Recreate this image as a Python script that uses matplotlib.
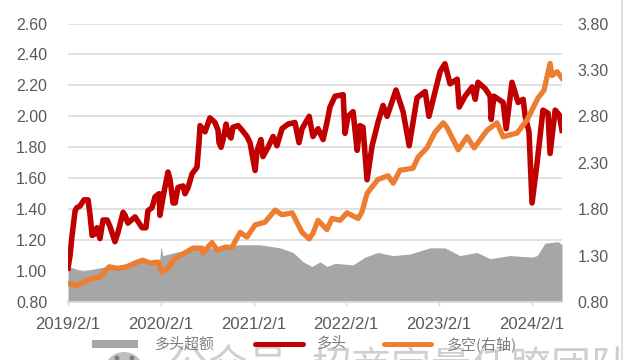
import pandas as pd
import matplotlib
matplotlib.use("Agg")
import matplotlib.pyplot as plt
from matplotlib.lines import Line2D
from matplotlib.patches import Ellipse, Rectangle

start = pd.Timestamp("2019-02-01")

long_days = [0, 8, 16, 28, 35, 47, 63, 79, 87, 95, 106, 114, 126, 138, 154, 165, 173, 185, 197, 217,
             225, 236, 264, 292, 307, 315, 331, 343, 359, 362, 378, 394, 402, 414, 422, 433, 453, 461,
             473, 489, 508, 516, 520, 540, 559, 579, 591, 595, 603, 611, 623, 630, 642, 650, 670, 686,
             705, 717, 737, 745, 760, 768, 788, 808, 823, 843, 867, 894, 910, 922, 950, 965, 985, 1005,
             1020, 1032, 1052, 1084, 1091, 1103, 1123, 1139, 1150, 1162, 1178, 1198, 1221, 1241, 1257,
             1292, 1308, 1320, 1344, 1375, 1407, 1422, 1446, 1466, 1485, 1505, 1533, 1541, 1564, 1592,
             1604, 1615, 1643, 1663, 1667, 1678, 1714, 1726, 1749, 1773, 1793, 1801, 1816, 1828, 1848,
             1871, 1891, 1899, 1919, 1935, 1946]
long_vals = [1.02, 1.10, 1.23, 1.39, 1.41, 1.42, 1.46, 1.46, 1.36, 1.23, 1.24, 1.28, 1.21, 1.33, 1.33, 1.29,
             1.25, 1.19, 1.25, 1.38, 1.36, 1.31, 1.35, 1.28, 1.28, 1.39, 1.41, 1.48, 1.50, 1.36, 1.51, 1.64,
             1.59, 1.44, 1.44, 1.54, 1.55, 1.50, 1.54, 1.63, 1.67, 1.83, 1.94, 1.90, 1.99, 1.96, 1.91, 1.83,
             1.80, 1.85, 1.95, 1.89, 1.86, 1.93, 1.94, 1.91, 1.87, 1.83, 1.65, 1.78, 1.85, 1.74, 1.80, 1.87,
             1.81, 1.92, 1.95, 1.96, 1.83, 1.92, 2.00, 1.87, 1.92, 1.85, 1.96, 2.06, 2.13, 2.14, 1.89, 2.00,
             2.03, 1.78, 1.94, 1.93, 1.59, 1.81, 1.96, 2.07, 2.00, 2.17, 2.09, 2.03, 1.81, 2.12, 2.16, 2.00,
             2.16, 2.29, 2.34, 2.21, 2.24, 2.06, 2.13, 2.19, 2.11, 2.22, 2.18, 2.13, 1.98, 2.13, 2.09, 1.92,
             2.22, 2.09, 2.11, 2.00, 1.90, 1.44, 1.70, 2.04, 2.02, 1.76, 2.04, 2.01, 1.91]

ls_days = [0, 35, 79, 126, 162, 197, 232, 264, 295, 323, 355, 370, 394, 422, 461, 492, 528, 532, 567, 587,
           619, 646, 678, 705, 737, 776, 816, 843, 883, 922, 950, 965, 985, 1020, 1040, 1072, 1099, 1143,
           1158, 1178, 1221, 1261, 1281, 1308, 1359, 1379, 1414, 1446, 1478, 1493, 1537, 1572, 1600, 1651,
           1690, 1714, 1769, 1808, 1852, 1875, 1899, 1907, 1927, 1946]
ls_vals = [1.00, 0.98, 1.04, 1.07, 1.18, 1.16, 1.18, 1.22, 1.25, 1.22, 1.23, 1.12, 1.17, 1.27, 1.33, 1.38,
           1.38, 1.33, 1.44, 1.36, 1.39, 1.39, 1.55, 1.50, 1.63, 1.66, 1.79, 1.74, 1.76, 1.55, 1.48, 1.54,
           1.68, 1.58, 1.70, 1.68, 1.76, 1.70, 1.77, 1.97, 2.12, 2.16, 2.08, 2.22, 2.24, 2.36, 2.46, 2.63,
           2.73, 2.68, 2.44, 2.58, 2.46, 2.65, 2.73, 2.58, 2.62, 2.76, 3.00, 3.08, 3.37, 3.24, 3.28, 3.21]

excess_days = [0, 59, 154, 256, 355, 362, 366, 374, 422, 500, 587, 670, 756, 835, 887, 926, 961, 993, 1020,
               1052, 1123, 1170, 1221, 1281, 1347, 1426, 1485, 1544, 1611, 1663, 1741, 1828, 1848, 1879,
               1931, 1946]
excess_vals = [1.03, 1.00, 1.03, 1.05, 1.07, 1.08, 1.16, 1.10, 1.12, 1.15, 1.15, 1.17, 1.17, 1.15, 1.12, 1.06,
               1.03, 1.06, 1.03, 1.05, 1.04, 1.09, 1.12, 1.10, 1.11, 1.15, 1.15, 1.10, 1.12, 1.08, 1.10, 1.09,
               1.10, 1.18, 1.19, 1.17]

x_ticks = ["2019-02-01", "2020-02-01", "2021-02-01", "2022-02-01", "2023-02-01", "2024-02-01"]
x_labels = ["2019/2/1", "2020/2/1", "2021/2/1", "2022/2/1", "2023/2/1", "2024/2/1"]
left_ticks = [0.80, 1.00, 1.20, 1.40, 1.60, 1.80, 2.00, 2.20, 2.40, 2.60]
right_ticks = [0.80, 1.30, 1.80, 2.30, 2.80, 3.30, 3.80]
legend_names = ["多头超额", "多头", "多空(右轴)"]
watermark_a = "公众号 ·"
watermark_b = "招商定量任瞭团队"

W, H = 630, 360
GREY = "#595959"
CJK = ["Noto Sans CJK SC", "DejaVu Sans"]
plt.rcParams["font.family"] = ["Liberation Sans", "DejaVu Sans"]


def to_dates(days):
    return start + pd.to_timedelta(days, unit="D")


def fx(px):
    return px / W


def fy(px):
    return 1 - px / H


fig = plt.figure(figsize=(W / 100, H / 100), dpi=100)
ax = fig.add_axes([fx(68), fy(302), (562 - 68) / W, (302 - 23.5) / H])
ax2 = ax.twinx()

ax.fill_between(to_dates(excess_days), 0.8, excess_vals, color="#A6A6A6", lw=0, zorder=2)
ax.plot(to_dates(long_days), long_vals, color="#C00000", lw=4, solid_joinstyle="round", zorder=3)
ax2.plot(to_dates(ls_days), ls_vals, color="#ED7D31", lw=3.8, solid_joinstyle="round", zorder=4)

ax.set_zorder(1)
ax2.set_zorder(2)
ax.set_xlim(start, to_dates([1946])[0])
ax.set_ylim(0.8, 2.6)
ax2.set_ylim(0.8, 3.8)
ax.set_yticks(left_ticks, [f"{v:.2f}" for v in left_ticks])
ax2.set_yticks(right_ticks, [f"{v:.2f}" for v in right_ticks])
ax.set_xticks(pd.to_datetime(x_ticks), x_labels)
ax.grid(axis="y", color="#D9D9D9", lw=1.1, zorder=0)
ax.set_axisbelow(True)

for a in (ax, ax2):
    for s in ("top", "left", "right"):
        a.spines[s].set_visible(False)
    a.spines["bottom"].set_color("#D9D9D9")
    a.spines["bottom"].set_linewidth(1.1)
ax.tick_params(axis="y", length=0, labelsize=11.5, labelcolor=GREY, pad=15)
ax2.tick_params(axis="y", length=0, labelsize=11.5, labelcolor=GREY, pad=11)
ax.tick_params(axis="x", length=3, width=1, color="#D9D9D9", labelsize=12, labelcolor=GREY, pad=8)

# watermark sits behind the legend and runs off the bottom edge
fig.add_artist(Ellipse((fx(124), fy(372)), 40 / W, 40 / H, color="#BFBFBF", lw=0, zorder=-2))
fig.add_artist(Ellipse((fx(117), fy(358)), 5 / W, 5 / H, color="#808080", lw=0, zorder=-2))
fig.add_artist(Ellipse((fx(132), fy(358)), 5 / W, 5 / H, color="#808080", lw=0, zorder=-2))
fig.text(fx(168), fy(379), watermark_a, family=CJK, fontsize=28.8, color="#CFCFCF", zorder=-1)
fig.text(fx(312), fy(379), watermark_b, family=CJK, fontsize=28.8, color="#CFCFCF", zorder=-1)

# page edge: white strip and a thin frame line
fig.add_artist(Rectangle((fx(622), 0), 8 / W, 1, color="white", lw=0, zorder=1))
fig.add_artist(Line2D([fx(622), fx(622)], [0, 1], color="#D9D9D9", lw=1.2, zorder=2))

# legend placed by hand, the gaps in the reference are not even
fig.add_artist(Rectangle((fx(92), fy(348)), 46 / W, 8 / H, color="#A6A6A6", lw=0, zorder=3))
fig.add_artist(Line2D([fx(255), fx(303)], [fy(344), fy(344)], color="#C00000", lw=3.6,
                      solid_capstyle="round", zorder=3))
fig.add_artist(Line2D([fx(384), fx(431)], [fy(344), fy(344)], color="#ED7D31", lw=3.6,
                      solid_capstyle="round", zorder=3))
for name, left in zip(legend_names, [155, 317, 447]):
    fig.text(fx(left), fy(344), name, family=CJK, fontsize=10.8, color="#7F7F7F", va="center", zorder=3)

fig.savefig("out.png", dpi=100)
